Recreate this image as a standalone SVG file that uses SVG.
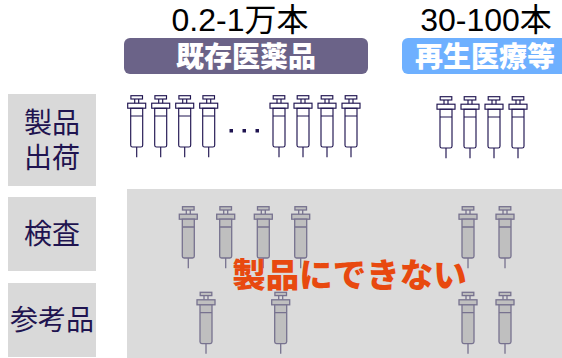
<svg xmlns="http://www.w3.org/2000/svg" width="562" height="358" viewBox="0 0 562 358">
<style>
.s{fill:none;stroke:#1f1450;stroke-width:1.15}
.g{fill:#bfbfbf;stroke:#77728f;stroke-width:1.3}
.box{fill:#d9d9d9}
.j{font-family:"Noto Sans CJK JP","Liberation Sans",sans-serif}
.lab{font-size:28px;fill:#1f1450;text-anchor:middle}
.num{font-family:"Liberation Sans","Noto Sans CJK JP",sans-serif;font-size:32px;fill:#000;text-anchor:middle}
.bad{font-size:28px;font-weight:900;fill:#fff;text-anchor:middle}
</style>
<defs>
<g id="syr">
<rect x="-5.8" y="0" width="11.6" height="3.3"/>
<path d="M-2 3.3V7.5M2 3.3V7.5"/>
<rect x="-9" y="7.5" width="18" height="5"/>
<path d="M-6 12.5V49.5Q-6 51.3-4.2 51.3H4.2Q6 51.3 6 49.5V12.5Z"/>
<path d="M-6 20.3H6M0 51.3V61.5"/>
</g>
</defs>
<g id="bg-panel"><rect x="127" y="189" width="435" height="169" fill="#dbdbdb"/></g>
<g id="row-ship"><rect class="box" x="8" y="94" width="88" height="92"/>
<text class="j lab"><tspan x="52" y="133">製品</tspan><tspan x="52" y="168">出荷</tspan></text></g>
<g id="row-test"><rect class="box" x="8" y="197" width="88" height="74"/>
<text class="j lab" x="52" y="244">検査</text></g>
<g id="row-ref"><rect class="box" x="8" y="283" width="88" height="74"/>
<text class="j lab" x="52" y="330">参考品</text></g>
<g id="head-existing"><text class="num" x="240" y="31">0.2-1万本</text>
<rect x="124" y="38" width="244" height="36" rx="6" fill="#6b6388"/>
<text class="j bad" x="246" y="67">既存医薬品</text></g>
<g id="head-regen"><text class="num" x="486" y="31">30-100本</text>
<rect x="402" y="38" width="170" height="36" rx="6" fill="#6eb0ff"/>
<text class="j bad" x="485" y="67">再生医療等</text></g>
<g id="syringes-ship" class="s">
<use href="#syr" x="136.7" y="95.7"/><use href="#syr" x="160.7" y="95.7"/><use href="#syr" x="184.7" y="95.7"/><use href="#syr" x="208.7" y="95.7"/>
<use href="#syr" x="279" y="95.7"/><use href="#syr" x="303" y="95.7"/><use href="#syr" x="327" y="95.7"/><use href="#syr" x="351" y="95.7"/>
<use href="#syr" x="446" y="96.7"/><use href="#syr" x="470" y="96.7"/><use href="#syr" x="494" y="96.7"/><use href="#syr" x="518" y="96.7"/>
</g>
<g id="dots" fill="#1f1450"><rect x="229.5" y="129" width="3.5" height="3.5"/><rect x="242.5" y="129" width="3.5" height="3.5"/><rect x="255.5" y="129" width="3.5" height="3.5"/></g>
<g id="syringes-test" class="g">
<use href="#syr" x="188.3" y="206.7"/><use href="#syr" x="225.7" y="206.7"/><use href="#syr" x="263.3" y="206.7"/><use href="#syr" x="300.7" y="206.7"/>
<use href="#syr" x="468" y="206.7"/><use href="#syr" x="505" y="206.7"/>
</g>
<g id="syringes-ref" class="g">
<use href="#syr" x="206" y="292.3"/><use href="#syr" x="280.7" y="292.3"/>
<use href="#syr" x="468" y="292.3"/><use href="#syr" x="505" y="292.3"/>
</g>
<g id="no-product"><text class="j" x="349.5" y="287" font-size="33.5" font-weight="900" fill="#e8490f" text-anchor="middle">製品にできない</text></g>
</svg>
